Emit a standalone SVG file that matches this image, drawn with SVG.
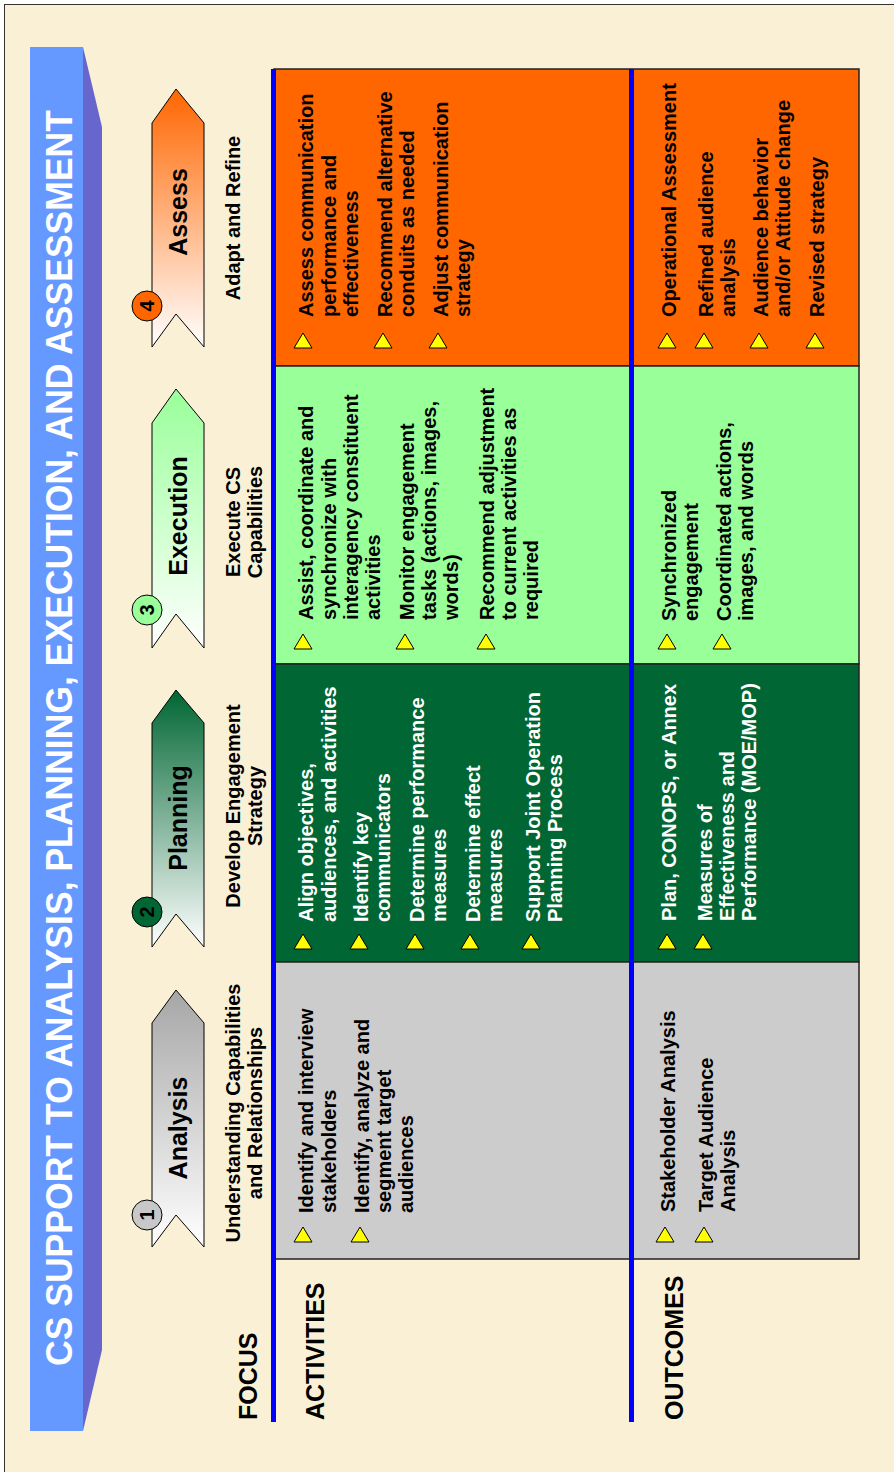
<svg xmlns="http://www.w3.org/2000/svg" xmlns:xlink="http://www.w3.org/1999/xlink" width="894" height="1472" viewBox="0 0 894 1472">
<defs>
<style>
text{font-family:"Liberation Sans",Arial,Helvetica,sans-serif;font-weight:bold;}
.body{font-size:20px;fill:#000;}
.wt{fill:#fff;}
.lbl{font-size:25px;fill:#000;}
.sub{font-size:20px;fill:#000;text-anchor:middle;}
.alb{font-size:25px;fill:#000;text-anchor:middle;}
.num{font-size:20px;text-anchor:middle;fill:#000;}
.band{stroke:#222;stroke-width:1.5;}
.arrow{stroke:#000;stroke-width:1;}
.circ{stroke:#000;stroke-width:1;}
.blue{stroke:#0000FF;stroke-width:5;}
</style>
<linearGradient id="gOr" x1="0" y1="0" x2="0" y2="1"><stop offset="0" stop-color="#FF6600"/><stop offset="1" stop-color="#FFFFFF"/></linearGradient>
<linearGradient id="gLg" x1="0" y1="0" x2="0" y2="1"><stop offset="0" stop-color="#99FF99"/><stop offset="1" stop-color="#FFFFFF"/></linearGradient>
<linearGradient id="gDg" x1="0" y1="0" x2="0" y2="1"><stop offset="0" stop-color="#006633"/><stop offset="1" stop-color="#FFFFFF"/></linearGradient>
<linearGradient id="gGr" x1="0" y1="0" x2="0" y2="1"><stop offset="0" stop-color="#A6A6A6"/><stop offset="1" stop-color="#FFFFFF"/></linearGradient>
<path id="tri" d="M0,15 L9,0 L18,15 Z" fill="#FFFF00" stroke="#000" stroke-width="1"/>
</defs>

<rect x="4.5" y="4.5" width="900" height="1480" fill="#FAF0D6" stroke="#333" stroke-width="1"/>

<g id="title">
<polygon points="83,47 102,127 102,1350 83,1431" fill="#6666CC"/>
<rect x="30" y="47" width="53" height="1384" fill="#6699FF"/>
<text transform="translate(72,1366) rotate(-90)" font-size="37" fill="#fff" textLength="1256" lengthAdjust="spacingAndGlyphs">CS SUPPORT TO ANALYSIS, PLANNING, EXECUTION, AND ASSESSMENT</text>
</g>

<g id="row-labels">
<text class="lbl" transform="translate(257,1420) rotate(-90)">FOCUS</text>
<text class="lbl" transform="translate(324,1420) rotate(-90)">ACTIVITIES</text>
<text class="lbl" transform="translate(683,1420) rotate(-90)">OUTCOMES</text>
</g>

<g id="phase-assess">
<polygon class="arrow" points="176,89 204,123 204,347 176,314 152,347 152,123" fill="url(#gOr)"/>
<text class="alb" transform="translate(187,212) rotate(-90)">Assess</text>
<circle class="circ" cx="147" cy="306" r="15" fill="#FF6600"/>
<text class="num" transform="translate(147,306) rotate(-90)" y="7">4</text>
<g transform="translate(0,218) rotate(-90)"><text class="sub" y="240">Adapt and Refine</text></g>
</g>

<g id="phase-execution">
<polygon class="arrow" points="176,389 204,423 204,648 176,614 152,648 152,423" fill="url(#gLg)"/>
<text class="alb" transform="translate(187,516) rotate(-90)">Execution</text>
<circle class="circ" cx="147" cy="610" r="15" fill="#99FF99"/>
<text class="num" transform="translate(147,610) rotate(-90)" y="7">3</text>
<g transform="translate(0,522) rotate(-90)"><text class="sub"><tspan x="0" y="240">Execute CS</tspan><tspan x="0" y="262">Capabilities</tspan></text></g>
</g>

<g id="phase-planning">
<polygon class="arrow" points="176,690 204,723 204,947 176,914 152,947 152,723" fill="url(#gDg)"/>
<text class="alb" transform="translate(187,818) rotate(-90)">Planning</text>
<circle class="circ" cx="147" cy="912" r="15" fill="#006633"/>
<text class="num wt" transform="translate(147,912) rotate(-90)" y="7">2</text>
<g transform="translate(0,806) rotate(-90)"><text class="sub"><tspan x="0" y="240">Develop Engagement</tspan><tspan x="0" y="262">Strategy</tspan></text></g>
</g>

<g id="phase-analysis">
<polygon class="arrow" points="176,990 204,1023 204,1247 176,1215 152,1247 152,1023" fill="url(#gGr)"/>
<text class="alb" transform="translate(187,1128) rotate(-90)">Analysis</text>
<circle class="circ" cx="147" cy="1215" r="15" fill="#C8C8C8"/>
<text class="num" transform="translate(147,1215) rotate(-90)" y="7">1</text>
<g transform="translate(0,1113) rotate(-90)"><text class="sub"><tspan x="0" y="240">Understanding Capabilities</tspan><tspan x="0" y="262">and Relationships</tspan></text></g>
</g>

<g id="bands">
<rect class="band" x="274" y="69" width="585" height="297" fill="#FF6600"/>
<rect class="band" x="274" y="366" width="585" height="298" fill="#99FF99"/>
<rect class="band" x="274" y="664" width="585" height="298" fill="#006633"/>
<rect class="band" x="274" y="962" width="585" height="297" fill="#CCCCCC"/>
</g>

<g id="cell-assess-activities">
<use xlink:href="#tri" x="294" y="333"/>
<use xlink:href="#tri" x="374" y="333"/>
<use xlink:href="#tri" x="429" y="333"/>
<g transform="translate(0,317) rotate(-90)"><text class="body">
<tspan x="0" y="313">Assess communication</tspan><tspan x="0" y="336">performance and</tspan><tspan x="0" y="358">effectiveness</tspan>
<tspan x="0" y="392">Recommend alternative</tspan><tspan x="0" y="414">conduits as needed</tspan>
<tspan x="0" y="448">Adjust communication</tspan><tspan x="0" y="470">strategy</tspan>
</text></g>
</g>

<g id="cell-assess-outcomes">
<use xlink:href="#tri" x="658" y="333"/>
<use xlink:href="#tri" x="695" y="333"/>
<use xlink:href="#tri" x="750" y="333"/>
<use xlink:href="#tri" x="806" y="333"/>
<g transform="translate(0,317) rotate(-90)"><text class="body">
<tspan x="0" y="676">Operational Assessment</tspan>
<tspan x="0" y="713">Refined audience</tspan><tspan x="0" y="735">analysis</tspan>
<tspan x="0" y="768">Audience behavior</tspan><tspan x="0" y="790">and/or Attitude change</tspan>
<tspan x="0" y="824">Revised strategy</tspan>
</text></g>
</g>

<g id="cell-execution-activities">
<use xlink:href="#tri" x="294" y="634"/>
<use xlink:href="#tri" x="396" y="634"/>
<use xlink:href="#tri" x="477" y="634"/>
<g transform="translate(0,620) rotate(-90)"><text class="body">
<tspan x="0" y="313">Assist, coordinate and</tspan><tspan x="0" y="336">synchronize with</tspan><tspan x="0" y="358">interagency constituent</tspan><tspan x="0" y="380">activities</tspan>
<tspan x="0" y="414">Monitor engagement</tspan><tspan x="0" y="436">tasks (actions, images,</tspan><tspan x="0" y="458">words)</tspan>
<tspan x="0" y="494">Recommend adjustment</tspan><tspan x="0" y="516">to current activities as</tspan><tspan x="0" y="538">required</tspan>
</text></g>
</g>

<g id="cell-execution-outcomes">
<use xlink:href="#tri" x="658" y="634"/>
<use xlink:href="#tri" x="713" y="634"/>
<g transform="translate(0,621) rotate(-90)"><text class="body">
<tspan x="0" y="676">Synchronized</tspan><tspan x="0" y="698">engagement</tspan>
<tspan x="0" y="731">Coordinated actions,</tspan><tspan x="0" y="753">images, and words</tspan>
</text></g>
</g>

<g id="cell-planning-activities">
<use xlink:href="#tri" x="294" y="934"/>
<use xlink:href="#tri" x="350" y="934"/>
<use xlink:href="#tri" x="406" y="934"/>
<use xlink:href="#tri" x="461" y="934"/>
<use xlink:href="#tri" x="522" y="934"/>
<g transform="translate(0,922) rotate(-90)"><text class="body wt">
<tspan x="0" y="313">Align objectives,</tspan><tspan x="0" y="336">audiences, and activities</tspan>
<tspan x="0" y="368">Identify key</tspan><tspan x="0" y="390">communicators</tspan>
<tspan x="0" y="424">Determine performance</tspan><tspan x="0" y="446">measures</tspan>
<tspan x="0" y="480">Determine effect</tspan><tspan x="0" y="502">measures</tspan>
<tspan x="0" y="540">Support Joint Operation</tspan><tspan x="0" y="562">Planning Process</tspan>
</text></g>
</g>

<g id="cell-planning-outcomes">
<use xlink:href="#tri" x="658" y="934"/>
<use xlink:href="#tri" x="694" y="934"/>
<g transform="translate(0,921) rotate(-90)"><text class="body wt">
<tspan x="0" y="676">Plan, CONOPS, or Annex</tspan>
<tspan x="0" y="712">Measures of</tspan><tspan x="0" y="734">Effectiveness and</tspan><tspan x="0" y="756">Performance (MOE/MOP)</tspan>
</text></g>
</g>

<g id="cell-analysis-activities">
<use xlink:href="#tri" x="294" y="1227"/>
<use xlink:href="#tri" x="351" y="1227"/>
<g transform="translate(0,1213) rotate(-90)"><text class="body">
<tspan x="0" y="313">Identify and interview</tspan><tspan x="0" y="336">stakeholders</tspan>
<tspan x="0" y="369">Identify, analyze and</tspan><tspan x="0" y="391">segment target</tspan><tspan x="0" y="413">audiences</tspan>
</text></g>
</g>

<g id="cell-analysis-outcomes">
<use xlink:href="#tri" x="656" y="1227"/>
<use xlink:href="#tri" x="695" y="1227"/>
<g transform="translate(0,1212) rotate(-90)"><text class="body">
<tspan x="0" y="675">Stakeholder Analysis</tspan>
<tspan x="0" y="713">Target Audience</tspan><tspan x="0" y="735">Analysis</tspan>
</text></g>
</g>

<g id="connectors">
<line class="blue" x1="273.5" y1="69" x2="273.5" y2="1422"/>
<line class="blue" x1="631.5" y1="69" x2="631.5" y2="1422"/>
</g>
</svg>
